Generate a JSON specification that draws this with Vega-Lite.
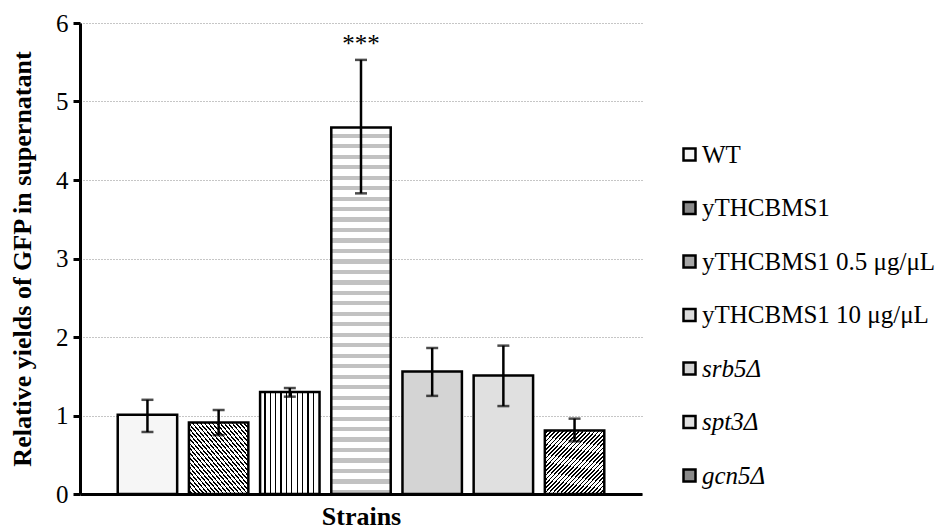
{
  "$schema": "https://vega.github.io/schema/vega-lite/v6.json",
  "autosize": {"type": "none"},
  "padding": {"left": 80, "top": 23, "right": 310, "bottom": 38},
  "width": 562,
  "height": 471,
  "config": {
    "font": "Liberation Serif",
    "view": {"stroke": null},
    "background": "white"
  },
  "data": {
    "values": [
      {"strain": "WT", "mean": 1.01, "lo": 0.79, "hi": 1.2, "sig": ""},
      {"strain": "yTHCBMS1", "mean": 0.91, "lo": 0.75, "hi": 1.07, "sig": ""},
      {"strain": "yTHCBMS1 0.5 μg/μL", "mean": 1.3, "lo": 1.24, "hi": 1.35, "sig": ""},
      {"strain": "yTHCBMS1 10 μg/μL", "mean": 4.67, "lo": 3.83, "hi": 5.53, "sig": "***"},
      {"strain": "srb5Δ", "mean": 1.56, "lo": 1.25, "hi": 1.86, "sig": ""},
      {"strain": "spt3Δ", "mean": 1.51, "lo": 1.12, "hi": 1.89, "sig": ""},
      {"strain": "gcn5Δ", "mean": 0.81, "lo": 0.67, "hi": 0.96, "sig": ""}
    ]
  },
  "encoding": {
    "x": {
      "field": "strain",
      "type": "nominal",
      "sort": null,
      "scale": {"paddingInner": 0.165, "paddingOuter": 0.53},
      "axis": {
        "title": "Strains",
        "titleFont": "Liberation Serif",
        "titleFontSize": 26,
        "titleFontWeight": "bold",
        "titleColor": "black",
        "titlePadding": 9,
        "labels": false,
        "ticks": false,
        "domainColor": "black",
        "domainWidth": 3,
        "grid": false
      }
    }
  },
  "layer": [
    {
      "mark": {"type": "bar", "stroke": "black", "strokeWidth": 2.5},
      "encoding": {
        "y": {
          "field": "mean",
          "type": "quantitative",
          "scale": {"domain": [0, 6], "nice": false},
          "axis": {
            "title": "Relative yields of GFP in supernatant",
            "titleFont": "Liberation Serif",
            "titleFontSize": 26,
            "titleFontWeight": "bold",
            "titleColor": "black",
            "titlePadding": 20,
            "labelFont": "Liberation Serif",
            "labelFontSize": 25,
            "labelColor": "black",
            "labelPadding": 5,
            "format": "d",
            "values": [0, 1, 2, 3, 4, 5, 6],
            "domainColor": "black",
            "domainWidth": 3,
            "tickColor": "black",
            "tickWidth": 3,
            "tickSize": 7,
            "grid": true,
            "gridColor": "#8c8c8c",
            "gridDash": [1, 2],
            "gridWidth": 1
          }
        },
        "fill": {
          "field": "strain",
          "type": "nominal",
          "sort": null,
          "scale": {
            "range": ["#f6f6f6", "#8a8a8a", "#a6a6a6", "#dcdcdc", "#d4d4d4", "#e0e0e0", "#8a8a8a"]
          },
          "condition": [
            {"test": "datum.strain === 'yTHCBMS1'", "value": {"gradient": "linear", "x1": 0, "y1": 1, "x2": 1, "y2": 0, "stops": [
                {"offset": 0, "color": "white"}, {"offset": 0.02, "color": "white"}, {"offset": 0.02, "color": "black"}, {"offset": 0.0333, "color": "black"},
                {"offset": 0.0333, "color": "white"}, {"offset": 0.0533, "color": "white"}, {"offset": 0.0533, "color": "black"}, {"offset": 0.0667, "color": "black"},
                {"offset": 0.0667, "color": "white"}, {"offset": 0.0867, "color": "white"}, {"offset": 0.0867, "color": "black"}, {"offset": 0.1, "color": "black"},
                {"offset": 0.1, "color": "white"}, {"offset": 0.12, "color": "white"}, {"offset": 0.12, "color": "black"}, {"offset": 0.1333, "color": "black"},
                {"offset": 0.1333, "color": "white"}, {"offset": 0.1533, "color": "white"}, {"offset": 0.1533, "color": "black"}, {"offset": 0.1667, "color": "black"},
                {"offset": 0.1667, "color": "white"}, {"offset": 0.1867, "color": "white"}, {"offset": 0.1867, "color": "black"}, {"offset": 0.2, "color": "black"},
                {"offset": 0.2, "color": "white"}, {"offset": 0.22, "color": "white"}, {"offset": 0.22, "color": "black"}, {"offset": 0.2333, "color": "black"},
                {"offset": 0.2333, "color": "white"}, {"offset": 0.2533, "color": "white"}, {"offset": 0.2533, "color": "black"}, {"offset": 0.2667, "color": "black"},
                {"offset": 0.2667, "color": "white"}, {"offset": 0.2867, "color": "white"}, {"offset": 0.2867, "color": "black"}, {"offset": 0.3, "color": "black"},
                {"offset": 0.3, "color": "white"}, {"offset": 0.32, "color": "white"}, {"offset": 0.32, "color": "black"}, {"offset": 0.3333, "color": "black"},
                {"offset": 0.3333, "color": "white"}, {"offset": 0.3533, "color": "white"}, {"offset": 0.3533, "color": "black"}, {"offset": 0.3667, "color": "black"},
                {"offset": 0.3667, "color": "white"}, {"offset": 0.3867, "color": "white"}, {"offset": 0.3867, "color": "black"}, {"offset": 0.4, "color": "black"},
                {"offset": 0.4, "color": "white"}, {"offset": 0.42, "color": "white"}, {"offset": 0.42, "color": "black"}, {"offset": 0.4333, "color": "black"},
                {"offset": 0.4333, "color": "white"}, {"offset": 0.4533, "color": "white"}, {"offset": 0.4533, "color": "black"}, {"offset": 0.4667, "color": "black"},
                {"offset": 0.4667, "color": "white"}, {"offset": 0.4867, "color": "white"}, {"offset": 0.4867, "color": "black"}, {"offset": 0.5, "color": "black"},
                {"offset": 0.5, "color": "white"}, {"offset": 0.52, "color": "white"}, {"offset": 0.52, "color": "black"}, {"offset": 0.5333, "color": "black"},
                {"offset": 0.5333, "color": "white"}, {"offset": 0.5533, "color": "white"}, {"offset": 0.5533, "color": "black"}, {"offset": 0.5667, "color": "black"},
                {"offset": 0.5667, "color": "white"}, {"offset": 0.5867, "color": "white"}, {"offset": 0.5867, "color": "black"}, {"offset": 0.6, "color": "black"},
                {"offset": 0.6, "color": "white"}, {"offset": 0.62, "color": "white"}, {"offset": 0.62, "color": "black"}, {"offset": 0.6333, "color": "black"},
                {"offset": 0.6333, "color": "white"}, {"offset": 0.6533, "color": "white"}, {"offset": 0.6533, "color": "black"}, {"offset": 0.6667, "color": "black"},
                {"offset": 0.6667, "color": "white"}, {"offset": 0.6867, "color": "white"}, {"offset": 0.6867, "color": "black"}, {"offset": 0.7, "color": "black"},
                {"offset": 0.7, "color": "white"}, {"offset": 0.72, "color": "white"}, {"offset": 0.72, "color": "black"}, {"offset": 0.7333, "color": "black"},
                {"offset": 0.7333, "color": "white"}, {"offset": 0.7533, "color": "white"}, {"offset": 0.7533, "color": "black"}, {"offset": 0.7667, "color": "black"},
                {"offset": 0.7667, "color": "white"}, {"offset": 0.7867, "color": "white"}, {"offset": 0.7867, "color": "black"}, {"offset": 0.8, "color": "black"},
                {"offset": 0.8, "color": "white"}, {"offset": 0.82, "color": "white"}, {"offset": 0.82, "color": "black"}, {"offset": 0.8333, "color": "black"},
                {"offset": 0.8333, "color": "white"}, {"offset": 0.8533, "color": "white"}, {"offset": 0.8533, "color": "black"}, {"offset": 0.8667, "color": "black"},
                {"offset": 0.8667, "color": "white"}, {"offset": 0.8867, "color": "white"}, {"offset": 0.8867, "color": "black"}, {"offset": 0.9, "color": "black"},
                {"offset": 0.9, "color": "white"}, {"offset": 0.92, "color": "white"}, {"offset": 0.92, "color": "black"}, {"offset": 0.9333, "color": "black"},
                {"offset": 0.9333, "color": "white"}, {"offset": 0.9533, "color": "white"}, {"offset": 0.9533, "color": "black"}, {"offset": 0.9667, "color": "black"},
                {"offset": 0.9667, "color": "white"}, {"offset": 0.9867, "color": "white"}, {"offset": 0.9867, "color": "black"}, {"offset": 1, "color": "black"}
              ]}},
            {"test": "datum.strain === 'yTHCBMS1 0.5 μg/μL'", "value": {"gradient": "linear", "x1": 0, "y1": 0, "x2": 1, "y2": 0, "stops": [
                {"offset": 0, "color": "white"}, {"offset": 0.068, "color": "white"}, {"offset": 0.068, "color": "black"}, {"offset": 0.091, "color": "black"},
                {"offset": 0.091, "color": "white"}, {"offset": 0.159, "color": "white"}, {"offset": 0.159, "color": "black"}, {"offset": 0.182, "color": "black"},
                {"offset": 0.182, "color": "white"}, {"offset": 0.25, "color": "white"}, {"offset": 0.25, "color": "black"}, {"offset": 0.273, "color": "black"},
                {"offset": 0.273, "color": "white"}, {"offset": 0.341, "color": "white"}, {"offset": 0.341, "color": "black"}, {"offset": 0.364, "color": "black"},
                {"offset": 0.364, "color": "white"}, {"offset": 0.432, "color": "white"}, {"offset": 0.432, "color": "black"}, {"offset": 0.455, "color": "black"},
                {"offset": 0.455, "color": "white"}, {"offset": 0.523, "color": "white"}, {"offset": 0.523, "color": "black"}, {"offset": 0.545, "color": "black"},
                {"offset": 0.545, "color": "white"}, {"offset": 0.614, "color": "white"}, {"offset": 0.614, "color": "black"}, {"offset": 0.636, "color": "black"},
                {"offset": 0.636, "color": "white"}, {"offset": 0.705, "color": "white"}, {"offset": 0.705, "color": "black"}, {"offset": 0.727, "color": "black"},
                {"offset": 0.727, "color": "white"}, {"offset": 0.795, "color": "white"}, {"offset": 0.795, "color": "black"}, {"offset": 0.818, "color": "black"},
                {"offset": 0.818, "color": "white"}, {"offset": 0.886, "color": "white"}, {"offset": 0.886, "color": "black"}, {"offset": 0.909, "color": "black"},
                {"offset": 0.909, "color": "white"}, {"offset": 1, "color": "white"}
              ]}},
            {"test": "datum.strain === 'yTHCBMS1 10 μg/μL'", "value": {"gradient": "linear", "x1": 0, "y1": 0, "x2": 0, "y2": 1, "stops": [
                {"offset": 0, "color": "white"}, {"offset": 0.017, "color": "white"}, {"offset": 0.017, "color": "#c2c2c2"}, {"offset": 0.0286, "color": "#c2c2c2"},
                {"offset": 0.0286, "color": "white"}, {"offset": 0.0457, "color": "white"}, {"offset": 0.0457, "color": "#c2c2c2"}, {"offset": 0.0571, "color": "#c2c2c2"},
                {"offset": 0.0571, "color": "white"}, {"offset": 0.0743, "color": "white"}, {"offset": 0.0743, "color": "#c2c2c2"}, {"offset": 0.0857, "color": "#c2c2c2"},
                {"offset": 0.0857, "color": "white"}, {"offset": 0.1029, "color": "white"}, {"offset": 0.1029, "color": "#c2c2c2"}, {"offset": 0.1143, "color": "#c2c2c2"},
                {"offset": 0.1143, "color": "white"}, {"offset": 0.1314, "color": "white"}, {"offset": 0.1314, "color": "#c2c2c2"}, {"offset": 0.1429, "color": "#c2c2c2"},
                {"offset": 0.1429, "color": "white"}, {"offset": 0.16, "color": "white"}, {"offset": 0.16, "color": "#c2c2c2"}, {"offset": 0.1714, "color": "#c2c2c2"},
                {"offset": 0.1714, "color": "white"}, {"offset": 0.1886, "color": "white"}, {"offset": 0.1886, "color": "#c2c2c2"}, {"offset": 0.2, "color": "#c2c2c2"},
                {"offset": 0.2, "color": "white"}, {"offset": 0.2171, "color": "white"}, {"offset": 0.2171, "color": "#c2c2c2"}, {"offset": 0.2286, "color": "#c2c2c2"},
                {"offset": 0.2286, "color": "white"}, {"offset": 0.2457, "color": "white"}, {"offset": 0.2457, "color": "#c2c2c2"}, {"offset": 0.2571, "color": "#c2c2c2"},
                {"offset": 0.2571, "color": "white"}, {"offset": 0.2743, "color": "white"}, {"offset": 0.2743, "color": "#c2c2c2"}, {"offset": 0.2857, "color": "#c2c2c2"},
                {"offset": 0.2857, "color": "white"}, {"offset": 0.3029, "color": "white"}, {"offset": 0.3029, "color": "#c2c2c2"}, {"offset": 0.3143, "color": "#c2c2c2"},
                {"offset": 0.3143, "color": "white"}, {"offset": 0.3314, "color": "white"}, {"offset": 0.3314, "color": "#c2c2c2"}, {"offset": 0.3429, "color": "#c2c2c2"},
                {"offset": 0.3429, "color": "white"}, {"offset": 0.36, "color": "white"}, {"offset": 0.36, "color": "#c2c2c2"}, {"offset": 0.3714, "color": "#c2c2c2"},
                {"offset": 0.3714, "color": "white"}, {"offset": 0.3886, "color": "white"}, {"offset": 0.3886, "color": "#c2c2c2"}, {"offset": 0.4, "color": "#c2c2c2"},
                {"offset": 0.4, "color": "white"}, {"offset": 0.4171, "color": "white"}, {"offset": 0.4171, "color": "#c2c2c2"}, {"offset": 0.4286, "color": "#c2c2c2"},
                {"offset": 0.4286, "color": "white"}, {"offset": 0.4457, "color": "white"}, {"offset": 0.4457, "color": "#c2c2c2"}, {"offset": 0.4571, "color": "#c2c2c2"},
                {"offset": 0.4571, "color": "white"}, {"offset": 0.4743, "color": "white"}, {"offset": 0.4743, "color": "#c2c2c2"}, {"offset": 0.4857, "color": "#c2c2c2"},
                {"offset": 0.4857, "color": "white"}, {"offset": 0.5029, "color": "white"}, {"offset": 0.5029, "color": "#c2c2c2"}, {"offset": 0.5143, "color": "#c2c2c2"},
                {"offset": 0.5143, "color": "white"}, {"offset": 0.5314, "color": "white"}, {"offset": 0.5314, "color": "#c2c2c2"}, {"offset": 0.5429, "color": "#c2c2c2"},
                {"offset": 0.5429, "color": "white"}, {"offset": 0.56, "color": "white"}, {"offset": 0.56, "color": "#c2c2c2"}, {"offset": 0.5714, "color": "#c2c2c2"},
                {"offset": 0.5714, "color": "white"}, {"offset": 0.5886, "color": "white"}, {"offset": 0.5886, "color": "#c2c2c2"}, {"offset": 0.6, "color": "#c2c2c2"},
                {"offset": 0.6, "color": "white"}, {"offset": 0.6171, "color": "white"}, {"offset": 0.6171, "color": "#c2c2c2"}, {"offset": 0.6286, "color": "#c2c2c2"},
                {"offset": 0.6286, "color": "white"}, {"offset": 0.6457, "color": "white"}, {"offset": 0.6457, "color": "#c2c2c2"}, {"offset": 0.6571, "color": "#c2c2c2"},
                {"offset": 0.6571, "color": "white"}, {"offset": 0.6743, "color": "white"}, {"offset": 0.6743, "color": "#c2c2c2"}, {"offset": 0.6857, "color": "#c2c2c2"},
                {"offset": 0.6857, "color": "white"}, {"offset": 0.7029, "color": "white"}, {"offset": 0.7029, "color": "#c2c2c2"}, {"offset": 0.7143, "color": "#c2c2c2"},
                {"offset": 0.7143, "color": "white"}, {"offset": 0.7314, "color": "white"}, {"offset": 0.7314, "color": "#c2c2c2"}, {"offset": 0.7429, "color": "#c2c2c2"},
                {"offset": 0.7429, "color": "white"}, {"offset": 0.76, "color": "white"}, {"offset": 0.76, "color": "#c2c2c2"}, {"offset": 0.7714, "color": "#c2c2c2"},
                {"offset": 0.7714, "color": "white"}, {"offset": 0.7886, "color": "white"}, {"offset": 0.7886, "color": "#c2c2c2"}, {"offset": 0.8, "color": "#c2c2c2"},
                {"offset": 0.8, "color": "white"}, {"offset": 0.8171, "color": "white"}, {"offset": 0.8171, "color": "#c2c2c2"}, {"offset": 0.8286, "color": "#c2c2c2"},
                {"offset": 0.8286, "color": "white"}, {"offset": 0.8457, "color": "white"}, {"offset": 0.8457, "color": "#c2c2c2"}, {"offset": 0.8571, "color": "#c2c2c2"},
                {"offset": 0.8571, "color": "white"}, {"offset": 0.8743, "color": "white"}, {"offset": 0.8743, "color": "#c2c2c2"}, {"offset": 0.8857, "color": "#c2c2c2"},
                {"offset": 0.8857, "color": "white"}, {"offset": 0.9029, "color": "white"}, {"offset": 0.9029, "color": "#c2c2c2"}, {"offset": 0.9143, "color": "#c2c2c2"},
                {"offset": 0.9143, "color": "white"}, {"offset": 0.9314, "color": "white"}, {"offset": 0.9314, "color": "#c2c2c2"}, {"offset": 0.9429, "color": "#c2c2c2"},
                {"offset": 0.9429, "color": "white"}, {"offset": 0.96, "color": "white"}, {"offset": 0.96, "color": "#c2c2c2"}, {"offset": 0.9714, "color": "#c2c2c2"},
                {"offset": 0.9714, "color": "white"}, {"offset": 0.9886, "color": "white"}, {"offset": 0.9886, "color": "#c2c2c2"}, {"offset": 1, "color": "#c2c2c2"}
              ]}},
            {"test": "datum.strain === 'gcn5Δ'", "value": {"gradient": "linear", "x1": 0, "y1": 0, "x2": 1, "y2": 1, "stops": [
                {"offset": 0, "color": "white"}, {"offset": 0.02, "color": "white"}, {"offset": 0.02, "color": "black"}, {"offset": 0.0333, "color": "black"},
                {"offset": 0.0333, "color": "white"}, {"offset": 0.0533, "color": "white"}, {"offset": 0.0533, "color": "black"}, {"offset": 0.0667, "color": "black"},
                {"offset": 0.0667, "color": "white"}, {"offset": 0.0867, "color": "white"}, {"offset": 0.0867, "color": "black"}, {"offset": 0.1, "color": "black"},
                {"offset": 0.1, "color": "white"}, {"offset": 0.12, "color": "white"}, {"offset": 0.12, "color": "black"}, {"offset": 0.1333, "color": "black"},
                {"offset": 0.1333, "color": "white"}, {"offset": 0.1533, "color": "white"}, {"offset": 0.1533, "color": "black"}, {"offset": 0.1667, "color": "black"},
                {"offset": 0.1667, "color": "white"}, {"offset": 0.1867, "color": "white"}, {"offset": 0.1867, "color": "black"}, {"offset": 0.2, "color": "black"},
                {"offset": 0.2, "color": "white"}, {"offset": 0.22, "color": "white"}, {"offset": 0.22, "color": "black"}, {"offset": 0.2333, "color": "black"},
                {"offset": 0.2333, "color": "white"}, {"offset": 0.2533, "color": "white"}, {"offset": 0.2533, "color": "black"}, {"offset": 0.2667, "color": "black"},
                {"offset": 0.2667, "color": "white"}, {"offset": 0.2867, "color": "white"}, {"offset": 0.2867, "color": "black"}, {"offset": 0.3, "color": "black"},
                {"offset": 0.3, "color": "white"}, {"offset": 0.32, "color": "white"}, {"offset": 0.32, "color": "black"}, {"offset": 0.3333, "color": "black"},
                {"offset": 0.3333, "color": "white"}, {"offset": 0.3533, "color": "white"}, {"offset": 0.3533, "color": "black"}, {"offset": 0.3667, "color": "black"},
                {"offset": 0.3667, "color": "white"}, {"offset": 0.3867, "color": "white"}, {"offset": 0.3867, "color": "black"}, {"offset": 0.4, "color": "black"},
                {"offset": 0.4, "color": "white"}, {"offset": 0.42, "color": "white"}, {"offset": 0.42, "color": "black"}, {"offset": 0.4333, "color": "black"},
                {"offset": 0.4333, "color": "white"}, {"offset": 0.4533, "color": "white"}, {"offset": 0.4533, "color": "black"}, {"offset": 0.4667, "color": "black"},
                {"offset": 0.4667, "color": "white"}, {"offset": 0.4867, "color": "white"}, {"offset": 0.4867, "color": "black"}, {"offset": 0.5, "color": "black"},
                {"offset": 0.5, "color": "white"}, {"offset": 0.52, "color": "white"}, {"offset": 0.52, "color": "black"}, {"offset": 0.5333, "color": "black"},
                {"offset": 0.5333, "color": "white"}, {"offset": 0.5533, "color": "white"}, {"offset": 0.5533, "color": "black"}, {"offset": 0.5667, "color": "black"},
                {"offset": 0.5667, "color": "white"}, {"offset": 0.5867, "color": "white"}, {"offset": 0.5867, "color": "black"}, {"offset": 0.6, "color": "black"},
                {"offset": 0.6, "color": "white"}, {"offset": 0.62, "color": "white"}, {"offset": 0.62, "color": "black"}, {"offset": 0.6333, "color": "black"},
                {"offset": 0.6333, "color": "white"}, {"offset": 0.6533, "color": "white"}, {"offset": 0.6533, "color": "black"}, {"offset": 0.6667, "color": "black"},
                {"offset": 0.6667, "color": "white"}, {"offset": 0.6867, "color": "white"}, {"offset": 0.6867, "color": "black"}, {"offset": 0.7, "color": "black"},
                {"offset": 0.7, "color": "white"}, {"offset": 0.72, "color": "white"}, {"offset": 0.72, "color": "black"}, {"offset": 0.7333, "color": "black"},
                {"offset": 0.7333, "color": "white"}, {"offset": 0.7533, "color": "white"}, {"offset": 0.7533, "color": "black"}, {"offset": 0.7667, "color": "black"},
                {"offset": 0.7667, "color": "white"}, {"offset": 0.7867, "color": "white"}, {"offset": 0.7867, "color": "black"}, {"offset": 0.8, "color": "black"},
                {"offset": 0.8, "color": "white"}, {"offset": 0.82, "color": "white"}, {"offset": 0.82, "color": "black"}, {"offset": 0.8333, "color": "black"},
                {"offset": 0.8333, "color": "white"}, {"offset": 0.8533, "color": "white"}, {"offset": 0.8533, "color": "black"}, {"offset": 0.8667, "color": "black"},
                {"offset": 0.8667, "color": "white"}, {"offset": 0.8867, "color": "white"}, {"offset": 0.8867, "color": "black"}, {"offset": 0.9, "color": "black"},
                {"offset": 0.9, "color": "white"}, {"offset": 0.92, "color": "white"}, {"offset": 0.92, "color": "black"}, {"offset": 0.9333, "color": "black"},
                {"offset": 0.9333, "color": "white"}, {"offset": 0.9533, "color": "white"}, {"offset": 0.9533, "color": "black"}, {"offset": 0.9667, "color": "black"},
                {"offset": 0.9667, "color": "white"}, {"offset": 0.9867, "color": "white"}, {"offset": 0.9867, "color": "black"}, {"offset": 1, "color": "black"}
              ]}}
          ],
          "legend": {
            "orient": "none",
            "legendX": 597,
            "legendY": 119,
            "title": null,
            "labelFont": "Liberation Serif",
            "labelFontSize": 25,
            "labelColor": "black",
            "labelOffset": 0,
            "labelLimit": 400,
            "symbolType": "square",
            "symbolSize": 144,
            "symbolStrokeColor": "black",
            "symbolStrokeWidth": 2.5,
            "rowPadding": 27.5,
            "encode": {
              "labels": {
                "update": {
                  "fontStyle": {"signal": "indexof(datum.value, 'Δ') >= 0 ? 'italic' : 'normal'"}
                }
              }
            }
          }
        }
      }
    },
    {
      "mark": {"type": "rule", "color": "black", "strokeWidth": 2.5},
      "encoding": {
        "y": {"field": "lo", "type": "quantitative"},
        "y2": {"field": "hi"}
      }
    },
    {
      "mark": {"type": "tick", "color": "black", "size": 12, "thickness": 2.5},
      "encoding": {
        "y": {"field": "lo", "type": "quantitative"}
      }
    },
    {
      "mark": {"type": "tick", "color": "black", "size": 12, "thickness": 2.5},
      "encoding": {
        "y": {"field": "hi", "type": "quantitative"}
      }
    },
    {
      "mark": {"type": "text", "font": "Liberation Serif", "fontSize": 25, "color": "black", "baseline": "alphabetic", "dy": -8},
      "encoding": {
        "y": {"field": "hi", "type": "quantitative"},
        "text": {"field": "sig"}
      }
    }
  ]
}
